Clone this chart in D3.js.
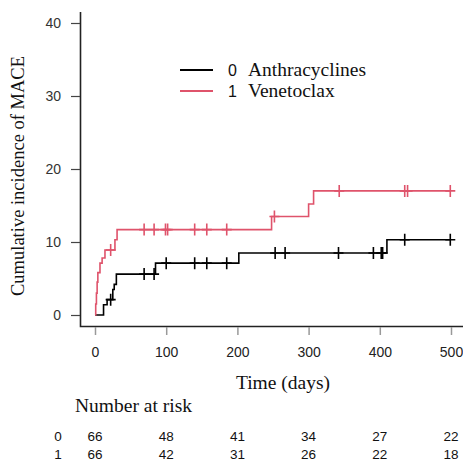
<!DOCTYPE html>
<html>
<head>
<meta charset="utf-8">
<script src="https://cdn.jsdelivr.net/npm/d3@7"></script>
<style>
  body { margin: 0; background: #fff; }
  .serif { font-family: "Liberation Serif", "DejaVu Serif", serif; }
  .sans { font-family: "Liberation Sans", Arial, sans-serif; }
</style>
</head>
<body>
<div id="chart"></div>
<script>
// step curves: time (days) and cumulative incidence (%)
var groups = ["0", "1"];
var groupNames = ["Anthracyclines", "Venetoclax"];
var colors = ["#000000", "#DF536B"];

var anthraTimes = [0, 12, 17, 25, 27, 30, 85, 202, 410, 500];
var anthraValues = [0, 1.4, 2.1, 3.5, 4.2, 5.6, 7.1, 8.5, 10.3, 10.3];
var anthraCensor = [22, 69, 83, 100, 140, 157, 185, 253, 267, 342, 391, 402, 404, 435, 499];

var venetoTimes = [0, 1, 2, 3, 4, 7, 10, 14, 28, 31, 248, 300, 307, 500];
var venetoValues = [0, 1.5, 3.0, 4.5, 5.8, 7.1, 7.8, 8.9, 10.3, 11.7, 13.5, 15.2, 17.0, 17.0];
var venetoCensor = [22, 69, 83, 99, 102, 140, 157, 185, 252, 343, 435, 439, 499];

var xTicks = [0, 100, 200, 300, 400, 500];
var yTicks = [0, 10, 20, 30, 40];
var riskAnthra = [66, 48, 41, 34, 27, 22];
var riskVeneto = [66, 42, 31, 26, 22, 18];

var series = [
  {times: anthraTimes, values: anthraValues, censor: anthraCensor},
  {times: venetoTimes, values: venetoValues, censor: venetoCensor}
];
var riskRows = [riskAnthra, riskVeneto];

var width = 463, height = 461;

var svg = d3.select("#chart")
  .append("svg")
    .attr("width", width)
    .attr("height", height);

var x = d3.scaleLinear().domain([0, 500]).range([95, 451]);
var y = d3.scaleLinear().domain([0, 40]).range([315, 23]);

// frame: left and bottom
svg.append("path")
  .attr("d", "M80.5,12V326.5H463")
  .attr("fill", "none")
  .attr("stroke", "#222")
  .attr("stroke-width", 1.6);

// y axis ticks
var yAxis = svg.append("g")
  .attr("transform", "translate(80,0)")
  .call(d3.axisLeft(y).tickValues(yTicks).tickSize(9).tickPadding(10));
yAxis.select(".domain").remove();
yAxis.selectAll("line").attr("stroke", "#444").attr("stroke-width", 1.2);
yAxis.selectAll("text")
  .attr("class", "sans")
  .style("font-size", "14px")
  .attr("fill", "#333");

// x axis ticks (below the frame)
var xAxis = svg.append("g")
  .attr("transform", "translate(0,327)")
  .call(d3.axisBottom(x).tickValues(xTicks).tickSize(8).tickPadding(12));
xAxis.select(".domain").remove();
xAxis.selectAll("line").attr("stroke", "#999").attr("stroke-width", 1.5);
xAxis.selectAll("text")
  .attr("class", "sans")
  .style("font-size", "14px")
  .attr("fill", "#222");

// curves
var line = d3.line()
  .x(function(d) { return x(d[0]); })
  .y(function(d) { return y(d[1]); })
  .curve(d3.curveStepAfter);

function valueAt(s, t) {
  var v = 0;
  for (var i = 0; i < s.times.length; i++) {
    if (s.times[i] <= t) v = s.values[i];
  }
  return v;
}

series.forEach(function(s, i) {
  svg.append("path")
    .datum(d3.zip(s.times, s.values))
    .attr("d", line)
    .attr("fill", "none")
    .attr("stroke", colors[i])
    .attr("stroke-width", 1.6);

  svg.selectAll(".censor" + i)
    .data(s.censor)
    .enter()
    .append("path")
      .attr("class", "censor" + i)
      .attr("d", function(t) {
        var cx = x(t), cy = y(valueAt(s, t));
        return "M" + cx + "," + (cy - 6) + "V" + (cy + 6) +
               "M" + (cx - 5) + "," + cy + "H" + (cx + 5);
      })
      .attr("stroke", colors[i])
      .attr("stroke-width", 1.6);
});

// legend
groups.forEach(function(g, i) {
  var ly = 70 + i * 21;
  svg.append("line")
    .attr("x1", 180).attr("x2", 213)
    .attr("y1", ly).attr("y2", ly)
    .attr("stroke", colors[i])
    .attr("stroke-width", 1.8);
  svg.append("text")
    .attr("class", "sans")
    .attr("x", 228).attr("y", ly + 6)
    .style("font-size", "16px")
    .attr("fill", "#111")
    .text(g);
  svg.append("text")
    .attr("class", "serif")
    .attr("x", 248).attr("y", ly + 6)
    .style("font-size", "19.5px")
    .attr("fill", "#111")
    .text(groupNames[i]);
});

// axis titles
svg.append("text")
  .attr("class", "serif")
  .attr("transform", "translate(24,176) rotate(-90)")
  .attr("text-anchor", "middle")
  .style("font-size", "18.5px")
  .attr("fill", "#111")
  .text("Cumulative incidence of MACE");

svg.append("text")
  .attr("class", "serif")
  .attr("x", 283).attr("y", 389)
  .attr("text-anchor", "middle")
  .style("font-size", "19.5px")
  .attr("fill", "#111")
  .text("Time (days)");

svg.append("text")
  .attr("class", "serif")
  .attr("x", 75).attr("y", 412)
  .style("font-size", "19.5px")
  .attr("fill", "#111")
  .text("Number at risk");

// number at risk table
riskRows.forEach(function(row, i) {
  var ry = 441 + i * 18;
  svg.append("text")
    .attr("class", "sans")
    .attr("x", 58).attr("y", ry)
    .attr("text-anchor", "middle")
    .style("font-size", "13.5px")
    .attr("fill", "#111")
    .text(groups[i]);
  svg.selectAll(".risk" + i)
    .data(row)
    .enter()
    .append("text")
      .attr("class", "sans risk" + i)
      .attr("x", function(d, j) { return x(xTicks[j]); })
      .attr("y", ry)
      .attr("text-anchor", "middle")
      .style("font-size", "13.5px")
      .attr("fill", "#111")
      .text(function(d) { return d; });
});
</script>
</body>
</html>
